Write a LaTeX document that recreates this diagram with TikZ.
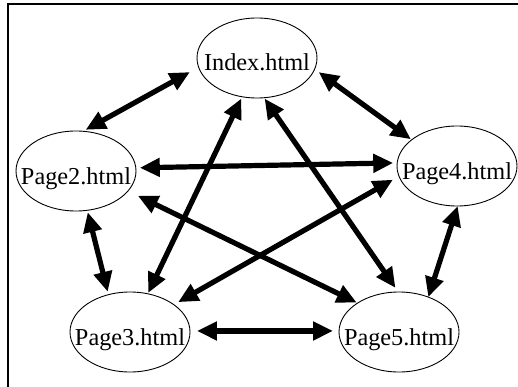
\documentclass[tikz,border=0pt]{standalone}
\usepackage{fontspec}
\setmainfont{Liberation Serif}
\usetikzlibrary{shapes.geometric,arrows.meta}

\tikzset{
  page/.style={ellipse, draw, line width=0.9pt, minimum width=120pt,
    minimum height=80pt, inner sep=0pt, outer sep=0pt,
    text height=26pt, text depth=0pt, font=\fontsize{24.3pt}{26pt}\selectfont},
  link/.style={line width=5.2pt,
    {Triangle[length=20pt,width=18pt]}-{Triangle[length=20pt,width=18pt]}},
  frame/.style={line width=1.6pt}
}
\newcommand{\pagelabel}[1]{\makebox[0pt]{#1}}

\begin{document}
\begin{tikzpicture}[x=1pt,y=-1pt]
  \useasboundingbox (0,0) rectangle (518,387);
  \clip (0,0) rectangle (518,387);
  \fill[white] (0,0) rectangle (518,387);
  % outer frame (right and bottom edges lie past the page)
  \draw[frame] (8,4) rectangle (540,410);

  % the five pages
  \node[page] (idx) at (257,58)  {\pagelabel{Index.html}};
  \node[page] (p2)  at (76,171)  {\pagelabel{Page2.html}};
  \node[page] (p4)  at (457,166) {\pagelabel{Page4.html}};
  \node[page] (p3)  at (130,332) {\pagelabel{Page3.html}};
  \node[page] (p5)  at (399,332) {\pagelabel{Page5.html}};

  % two-way links between the pages
  \draw[link, shorten <=10pt, shorten >=3pt] (idx.189) -- (p2.80);
  \draw[link, shorten <=5pt,  shorten >=1pt] (idx.349) -- (p4.150);
  \draw[link, shorten <=4pt,  shorten >=4pt] (p2.3)    -- (p4.177);
  \draw[link, shorten <=11pt, shorten >=1pt] (p2.339)  -- (p5.145);
  \draw[link, shorten <=2pt,  shorten >=3pt] (p2.286)  -- (p3.120);
  \draw[link, shorten <=2pt,  shorten >=1pt] (idx.249) -- (p3.65);
  \draw[link, shorten <=1pt,  shorten >=5pt] (idx.280) -- (p5.91);
  \draw[link, shorten <=5pt,  shorten >=7pt] (p3.32)   -- (p4.190);
  \draw[link, shorten <=7pt,  shorten >=6pt] (p3.1)    -- (p5.179);
  \draw[link] (p4.271) -- (p5.50);
\end{tikzpicture}
\end{document}
